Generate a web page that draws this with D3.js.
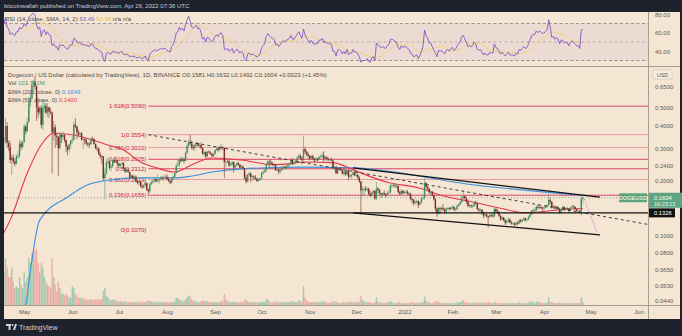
<!DOCTYPE html>
<html><head><meta charset="utf-8">
<script src="https://cdn.jsdelivr.net/npm/d3@7"></script>
<style>
html,body{margin:0;padding:0;background:#1e222d;}
svg{display:block;font-family:"Liberation Sans",Arial,sans-serif;}
</style></head><body>
<svg id="chart" width="682" height="336"></svg>
<script>
// ---- DOGE/USD daily bars, 2021-04-17 .. 2022-04-26 (open = previous close) ----
const firstDay = "2021-04-17";
const firstOpen = 0.367;
const closes = [
0.328,0.330,0.396,0.320,0.305,0.258,0.266,0.254,0.246,0.271,0.271,0.318,0.304,0.323,
0.394,0.371,0.418,0.534,0.562,0.663,0.691,0.652,0.502,0.470,0.499,0.402,0.500,0.512,0.469,0.503,0.476,0.470,0.365,0.390,0.351,0.345,0.300,0.356,0.345,0.355,0.332,0.306,0.294,0.314,0.329,
0.333,0.404,0.394,0.367,0.356,0.361,0.333,0.336,0.332,0.318,0.317,0.315,0.338,0.337,0.316,0.299,0.298,0.278,0.271,0.270,0.205,0.218,0.250,0.254,0.234,0.238,0.258,0.251,0.257,0.247,
0.240,0.245,0.248,0.232,0.224,0.228,0.222,0.206,0.212,0.205,0.209,0.198,0.194,0.197,0.186,0.183,0.187,0.193,0.178,0.174,0.191,0.195,0.199,0.203,0.197,0.199,0.203,0.206,0.205,0.208,0.209,
0.203,0.198,0.194,0.205,0.209,0.219,0.240,0.243,0.261,0.255,0.261,0.255,0.283,0.309,0.324,0.318,0.303,0.301,0.314,0.320,0.309,0.312,0.300,0.279,0.285,0.270,0.287,0.284,0.279,0.271,0.278,
0.293,0.299,0.293,0.302,0.304,0.300,0.252,0.253,0.255,0.241,0.245,0.251,0.235,0.241,0.248,0.244,0.234,0.238,0.232,0.206,0.197,0.214,0.218,0.208,0.210,0.208,0.204,0.198,0.200,0.205,
0.219,0.222,0.226,0.244,0.253,0.251,0.246,0.245,0.242,0.227,0.229,0.223,0.227,0.235,0.236,0.233,0.238,0.243,0.245,0.255,0.246,0.248,0.257,0.266,0.272,0.264,0.258,0.296,0.287,0.278,0.272,
0.263,0.271,0.263,0.257,0.262,0.259,0.268,0.270,0.274,0.262,0.268,0.262,0.260,0.261,0.256,0.236,0.236,0.218,0.230,0.232,0.227,0.218,0.223,0.215,0.227,0.209,0.213,0.214,0.221,0.213,
0.214,0.207,0.197,0.176,0.179,0.179,0.177,0.180,0.168,0.164,0.172,0.175,0.159,0.180,0.177,0.170,0.167,0.170,0.167,0.165,0.170,0.171,0.187,0.188,0.188,0.186,0.186,0.172,0.168,0.175,0.170,
0.173,0.173,0.169,0.168,0.158,0.157,0.150,0.152,0.154,0.147,0.151,0.159,0.160,0.194,0.184,0.180,0.172,0.173,0.166,0.157,0.140,0.132,0.141,0.139,0.141,0.138,0.135,0.140,0.141,0.139,0.142,
0.143,0.138,0.139,0.145,0.148,0.152,0.161,0.164,0.159,0.152,0.145,0.146,0.144,0.145,0.151,0.149,0.139,0.137,0.138,0.132,0.128,0.130,0.127,0.126,0.129,0.128,0.127,0.139,
0.135,0.134,0.128,0.122,0.125,0.121,0.117,0.119,0.122,0.117,0.116,0.116,0.114,0.117,0.116,0.121,0.119,0.121,0.124,0.121,0.122,0.126,0.130,0.136,0.137,0.137,0.143,0.141,0.143,0.142,0.140,
0.142,0.143,0.146,0.156,0.152,0.142,0.144,0.140,0.143,0.140,0.133,0.138,0.143,0.138,0.141,0.140,0.136,0.142,0.144,0.143,0.139,0.136,0.136,0.135,0.1581,0.1604
];
const highs = [
0.370,0.345,0.438,0.415,0.332,0.326,0.276,0.277,0.262,0.277,0.290,0.335,0.329,0.330,
0.410,0.400,0.440,0.570,0.598,0.700,0.708,0.738,0.660,0.560,0.510,0.515,0.552,0.540,0.528,0.530,0.505,0.497,0.475,0.423,0.404,0.365,0.350,0.369,0.358,0.370,0.357,0.334,0.312,0.318,0.333,
0.350,0.418,0.438,0.397,0.378,0.366,0.368,0.339,0.340,0.337,0.324,0.322,0.343,0.347,0.338,0.318,0.308,0.302,0.284,0.274,0.272,0.232,0.262,0.266,0.257,0.245,0.262,0.266,0.270,0.260,
0.250,0.248,0.253,0.252,0.236,0.232,0.233,0.224,0.216,0.215,0.212,0.213,0.201,0.200,0.199,0.192,0.190,0.200,0.194,0.180,0.194,0.199,0.201,0.208,0.205,0.215,0.205,0.211,0.210,0.212,0.215,
0.215,0.208,0.201,0.207,0.213,0.222,0.248,0.263,0.264,0.268,0.268,0.266,0.288,0.318,0.336,0.3554,0.330,0.313,0.318,0.325,0.323,0.319,0.322,0.302,0.289,0.288,0.290,0.292,0.289,0.283,0.283,
0.296,0.305,0.306,0.310,0.316,0.307,0.302,0.262,0.262,0.259,0.250,0.255,0.254,0.244,0.252,0.252,0.246,0.242,0.241,0.233,0.215,0.217,0.222,0.220,0.213,0.212,0.214,0.207,0.206,0.207,
0.222,0.226,0.230,0.250,0.260,0.258,0.260,0.252,0.249,0.245,0.234,0.232,0.230,0.238,0.244,0.240,0.242,0.248,0.250,0.262,0.265,0.256,0.262,0.272,0.280,0.277,0.270,0.350,0.305,0.292,0.285,
0.276,0.274,0.276,0.265,0.268,0.265,0.272,0.275,0.285,0.288,0.272,0.270,0.266,0.265,0.266,0.258,0.240,0.240,0.233,0.235,0.237,0.230,0.226,0.227,0.230,0.229,0.217,0.217,0.224,0.228,
0.222,0.216,0.210,0.198,0.185,0.183,0.186,0.183,0.182,0.176,0.173,0.177,0.176,0.196,0.184,0.180,0.171,0.172,0.176,0.170,0.174,0.177,0.190,0.193,0.191,0.192,0.190,0.190,0.176,0.179,0.177,
0.176,0.176,0.177,0.172,0.171,0.160,0.158,0.155,0.157,0.155,0.153,0.162,0.168,0.207,0.194,0.187,0.181,0.176,0.175,0.167,0.160,0.142,0.143,0.143,0.145,0.148,0.141,0.142,0.143,0.143,0.144,
0.146,0.145,0.141,0.147,0.150,0.155,0.165,0.176,0.166,0.162,0.157,0.149,0.147,0.147,0.153,0.155,0.150,0.141,0.140,0.139,0.135,0.133,0.132,0.128,0.132,0.131,0.132,0.141,
0.141,0.139,0.136,0.129,0.127,0.126,0.123,0.121,0.125,0.124,0.120,0.118,0.118,0.119,0.119,0.123,0.123,0.123,0.126,0.125,0.124,0.128,0.132,0.138,0.140,0.140,0.146,0.147,0.146,0.145,0.143,
0.144,0.146,0.148,0.177,0.160,0.154,0.146,0.146,0.145,0.144,0.141,0.140,0.145,0.144,0.142,0.142,0.141,0.143,0.147,0.146,0.144,0.140,0.138,0.137,0.166,0.1632
];
const lows = [
0.318,0.255,0.318,0.300,0.290,0.248,0.214,0.245,0.238,0.244,0.262,0.265,0.292,0.298,
0.322,0.355,0.366,0.409,0.505,0.555,0.628,0.625,0.422,0.440,0.455,0.385,0.378,0.470,0.460,0.445,0.440,0.460,0.218,0.330,0.300,0.312,0.212,0.295,0.320,0.335,0.323,0.285,0.273,0.285,0.300,
0.318,0.330,0.385,0.335,0.345,0.348,0.330,0.297,0.315,0.310,0.305,0.300,0.311,0.327,0.313,0.296,0.288,0.275,0.262,0.247,0.198,0.157,0.215,0.243,0.228,0.223,0.234,0.248,0.249,0.238,
0.232,0.232,0.240,0.230,0.219,0.220,0.220,0.200,0.203,0.202,0.202,0.195,0.190,0.188,0.183,0.180,0.180,0.186,0.175,0.165,0.170,0.188,0.190,0.196,0.194,0.196,0.191,0.199,0.201,0.197,0.205,
0.200,0.196,0.190,0.191,0.198,0.206,0.218,0.238,0.236,0.250,0.252,0.247,0.254,0.278,0.300,0.312,0.294,0.292,0.290,0.307,0.305,0.300,0.297,0.276,0.270,0.265,0.269,0.280,0.275,0.269,0.268,
0.276,0.290,0.285,0.290,0.296,0.292,0.205,0.236,0.248,0.237,0.238,0.240,0.220,0.232,0.238,0.240,0.232,0.232,0.229,0.202,0.192,0.195,0.210,0.195,0.203,0.199,0.202,0.196,0.196,0.199,
0.203,0.215,0.219,0.221,0.240,0.232,0.243,0.240,0.238,0.225,0.224,0.215,0.218,0.225,0.228,0.230,0.229,0.236,0.238,0.242,0.242,0.243,0.247,0.253,0.262,0.260,0.245,0.255,0.278,0.270,0.262,
0.258,0.260,0.259,0.250,0.253,0.253,0.258,0.263,0.266,0.250,0.258,0.255,0.254,0.255,0.254,0.232,0.226,0.216,0.216,0.226,0.225,0.215,0.212,0.212,0.213,0.200,0.207,0.202,0.212,0.210,
0.208,0.203,0.193,0.130,0.166,0.164,0.174,0.172,0.166,0.163,0.162,0.168,0.156,0.156,0.170,0.167,0.160,0.163,0.165,0.161,0.164,0.168,0.171,0.181,0.183,0.182,0.181,0.170,0.166,0.165,0.168,
0.168,0.170,0.166,0.165,0.155,0.149,0.145,0.147,0.149,0.141,0.145,0.150,0.157,0.157,0.178,0.176,0.168,0.166,0.163,0.155,0.135,0.126,0.130,0.131,0.135,0.136,0.131,0.133,0.138,0.137,0.137,
0.139,0.136,0.135,0.137,0.143,0.146,0.150,0.156,0.155,0.149,0.142,0.142,0.141,0.140,0.143,0.147,0.137,0.134,0.135,0.129,0.124,0.126,0.125,0.110,0.124,0.126,0.125,0.125,
0.133,0.131,0.126,0.120,0.121,0.119,0.114,0.115,0.118,0.116,0.114,0.114,0.112,0.113,0.114,0.115,0.117,0.118,0.120,0.119,0.119,0.121,0.125,0.129,0.134,0.134,0.136,0.139,0.139,0.139,0.136,
0.136,0.140,0.141,0.145,0.148,0.140,0.139,0.138,0.138,0.137,0.131,0.132,0.136,0.136,0.137,0.138,0.134,0.135,0.140,0.141,0.137,0.135,0.133,0.132,0.128,0.1492
];
// daily volume, hundreds of millions DOGE
const volumes = [
40,35,50,40,30,30,40,25,18,20,18,30,22,18,
35,25,30,50,45,55,55,58,60,45,35,45,40,30,25,22,20,18,50,30,22,15,25,18,12,12,10,12,10,8,8,
20,18,12,10,8,8,7,7,6,6,5,6,6,6,5,6,6,6,6,6,15,18,10,8,6,5,6,5,5,4,
4,4,3,4,4,3,3,4,3,3,3,3,3,3,4,3,3,3,4,5,4,4,3,3,3,4,3,3,3,3,3,
3,3,3,3,3,4,8,7,6,5,4,4,6,8,10,9,6,5,4,4,3,3,4,5,4,4,4,3,3,3,3,
3,3,3,3,4,4,12,6,4,4,3,3,4,3,3,3,3,3,3,5,6,4,3,3,3,3,3,3,3,3,
4,3,3,6,6,4,3,3,3,4,3,3,3,3,3,3,3,3,3,4,4,3,3,3,5,4,4,20,8,5,4,
3,3,3,3,3,3,3,3,4,4,3,3,2,2,3,4,3,4,3,2,2,3,3,3,2,4,3,3,3,3,
3,3,4,10,5,4,3,3,3,3,2,2,3,8,4,3,3,2,2,2,3,3,4,3,2,2,2,3,3,2,2,
2,2,2,2,3,3,3,2,2,3,2,3,3,9,5,3,3,2,2,3,4,4,3,3,2,2,2,2,2,2,2,
2,2,2,3,3,3,4,5,3,3,3,2,2,2,3,2,3,2,2,2,3,2,2,4,3,2,2,3,
3,2,2,2,2,2,2,2,2,2,2,2,2,2,2,3,2,2,2,2,2,3,3,4,3,2,4,3,3,3,2,
2,2,3,8,4,3,2,2,2,2,3,2,2,2,2,2,2,2,2,2,2,2,2,2,8,3
];
// RSI(14) per day
const rsiValues = [
70,70,76,66,64,58,60,58,57,61,61,66,64,66,
70,67,71,77,78,80,81,79,68,64,66,56,62,63,58,61,58,57,46,48,45,45,41,47,46,47,45,43,42,45,47,
47,54,53,50,49,50,47,47,47,46,46,45,48,48,45,43,43,41,40,39,31,29,38,39,37,37,40,39,40,38,
38,39,40,37,36,37,36,34,35,34,35,33,33,34,33,32,33,35,31,30,37,39,40,42,40,41,42,43,42,43,43,
41,40,39,45,47,52,60,61,66,63,65,62,69,74,78,72,66,65,67,68,64,65,60,53,55,50,55,54,52,50,52,
56,58,56,59,60,57,42,42,43,40,41,43,38,40,42,41,38,40,38,32,30,37,38,36,37,36,35,34,35,37,
44,46,48,56,59,57,55,54,53,47,48,45,47,50,51,50,52,53,54,57,53,53,56,59,61,57,54,64,58,54,52,
49,52,49,47,49,48,52,52,54,49,51,49,48,49,47,40,40,35,41,42,40,37,40,37,42,36,38,38,42,39,
39,37,34,28,30,30,30,32,29,28,33,34,30,49,47,45,44,45,44,43,46,47,53,53,52,50,50,44,42,46,44,
45,45,43,42,38,37,34,35,36,32,35,40,45,63,57,54,49,49,45,41,38,34,41,40,41,39,37,41,42,40,43,
44,41,42,46,48,50,56,57,53,49,45,46,45,46,50,48,42,41,42,39,36,38,36,36,39,38,38,48,
44,43,40,37,39,37,35,37,39,36,36,36,35,38,37,42,41,43,45,43,44,48,52,57,58,58,62,60,62,61,59,
60,61,63,74,66,55,56,53,55,53,48,52,52,49,50,49,46,50,51,50,48,46,46,43,63,63.49
];
// EMA lines, sampled [date, value]
const ema200Points = [
["2021-04-17",0.030],["2021-05-02",0.042],["2021-05-05",0.064],["2021-05-11",0.121],["2021-05-29",0.162],
["2021-06-11",0.189],["2021-06-24",0.200],["2021-07-15",0.206],["2021-08-06",0.206],["2021-08-17",0.211],
["2021-08-30",0.222],["2021-09-18",0.231],["2021-10-31",0.236],["2021-11-29",0.234],["2022-02-14",0.189],
["2022-04-26",0.1649]];
const ema50Points = [
["2021-04-17",0.100],["2021-04-22",0.121],["2021-05-03",0.219],["2021-05-11",0.303],["2021-05-20",0.362],
["2021-06-02",0.354],["2021-06-14",0.332],["2021-06-24",0.312],["2021-07-04",0.293],["2021-07-15",0.252],
["2021-07-26",0.233],["2021-08-06",0.222],["2021-08-17",0.243],["2021-08-30",0.265],["2021-09-18",0.258],
["2021-10-09",0.243],["2021-10-31",0.252],["2021-11-17",0.249],["2021-11-29",0.228],["2021-12-21",0.195],
["2022-01-11",0.181],["2022-01-24",0.166],["2022-02-14",0.152],["2022-03-08",0.138],["2022-03-18",0.133],
["2022-03-29",0.134],["2022-04-11",0.138],["2022-04-26",0.1400]];
// Fibonacci retracement levels
const fibRatios = ["1.618","1","0.786","0.618","0.5","0.382","0.236","0"];
const fibPrices = [0.5090,0.3554,0.3022,0.2605,0.2312,0.2019,0.1656,0.1070];
const fibStrong = [true,false,false,true,true,false,true,false];
const fibStart = "2021-07-20";
// drawn lines [date, price]
const dashedLine = [["2021-07-20",0.3554],["2022-06-07",0.1146]];
const upperTrend = [["2021-11-29",0.2335],["2022-05-07",0.1616]];
const lowerTrend = [["2021-11-29",0.1327],["2022-05-07",0.1004]];
const projection = [["2022-04-27",0.158],["2022-05-05",0.1035]];
const supportLevel = 0.1326;
const lastPrice = 0.1604;
const priceTicks = [0.0440,0.0530,0.0650,0.0800,0.1000,0.2000,0.2400,0.3000,0.4000,0.5000,0.6500];
const rsiTicks = [40,60,80];
const viewStart = "2021-04-18", viewEnd = "2022-06-07";

// ---- layout ----
const W = 682, H = 336;
const L = 4, R = 648, RSI_T = 12, RSI_B = 66, P_T = 67, P_B = 305, AX_B = 319;
const BG = "#f5e6d3", INK = "#4a4a4a";
const UP = "#3f8f5a", DOWN = "#7a2d25";

const parse = d3.utcParse("%Y-%m-%d");
const day0 = parse(firstDay);
const bars = closes.map((c, i) => ({
  date: d3.utcDay.offset(day0, i),
  open: i === 0 ? firstOpen : closes[i - 1],
  close: c, high: highs[i], low: lows[i], vol: volumes[i], rsi: rsiValues[i]
}));

const x = d3.scaleUtc().domain([parse(viewStart), parse(viewEnd)]).range([L, R]);
const y = d3.scaleLog().domain([0.0415, 0.834]).range([P_B, P_T]);
const yR = d3.scaleLinear().domain([30, 70]).range([60.5, 23.5]);
const yV = d3.scaleLinear().domain([0, 62]).range([P_B, P_B - 58]);

const svg = d3.select("#chart");
svg.append("rect").attr("width", W).attr("height", H).attr("fill", "#1e222d");
svg.append("rect").attr("x", L).attr("y", RSI_T).attr("width", 680 - L).attr("height", AX_B - RSI_T).attr("fill", BG);

const defs = svg.append("defs");
defs.append("clipPath").attr("id", "cp").append("rect").attr("x", L).attr("y", P_T).attr("width", R - L).attr("height", P_B - P_T);
defs.append("clipPath").attr("id", "cr").append("rect").attr("x", L).attr("y", RSI_T).attr("width", R - L).attr("height", RSI_B - RSI_T);

// ---- RSI pane ----
const rsiG = svg.append("g").attr("clip-path", "url(#cr)");
rsiG.append("rect").attr("x", L).attr("width", R - L).attr("y", yR(70)).attr("height", yR(30) - yR(70))
  .attr("fill", "#7e57c2").attr("opacity", 0.07);
[70, 50, 30].forEach(v => rsiG.append("line").attr("x1", L).attr("x2", R).attr("y1", yR(v)).attr("y2", yR(v))
  .attr("stroke", "#6a6470").attr("stroke-width", 0.8).attr("stroke-dasharray", "3,2.5").attr("opacity", v === 50 ? 0.45 : 0.8));
const sma = bars.map((b, i) => i < 13 ? null : d3.mean(bars.slice(i - 13, i + 1), d => d.rsi));
rsiG.append("path").datum(bars.map((b, i) => [b.date, sma[i]]).filter(d => d[1] != null))
  .attr("d", d3.line().x(d => x(d[0])).y(d => yR(d[1])))
  .attr("fill", "none").attr("stroke", "#f1d27a").attr("stroke-width", 1);
rsiG.append("path").datum(bars)
  .attr("d", d3.line().x(d => x(d.date)).y(d => yR(d.rsi)))
  .attr("fill", "none").attr("stroke", "#7e57c2").attr("stroke-width", 0.9);

const rsiAxis = svg.append("g").attr("transform", `translate(${R},0)`)
  .call(d3.axisRight(yR).tickValues(rsiTicks).tickFormat(d3.format(".2f")).tickSize(0).tickPadding(7));
rsiAxis.select(".domain").remove();
rsiAxis.selectAll("text").attr("font-size", 6).attr("fill", "#5a5a5a").attr("font-family", "Liberation Sans, Arial");

// ---- price pane ----
const pg = svg.append("g").attr("clip-path", "url(#cp)");

// volume
pg.selectAll("rect.vol").data(bars).join("rect").attr("class", "vol")
  .attr("x", d => x(d.date) - 0.7).attr("width", 1.4)
  .attr("y", d => yV(d.vol)).attr("height", d => P_B - yV(d.vol))
  .attr("fill", d => d.close >= d.open ? "#7cc3a4" : "#ee9a97").attr("opacity", 0.75);

// fib levels
const fx0 = x(parse(fibStart));
fibPrices.forEach((p, i) => {
  if (fibRatios[i] !== "0")
    pg.append("line").attr("x1", fx0).attr("x2", R).attr("y1", y(p)).attr("y2", y(p))
      .attr("stroke", "#d42c5a").attr("stroke-width", fibStrong[i] ? 1 : 0.9).attr("opacity", fibStrong[i] ? 0.85 : 0.45);
});
fibPrices.forEach((p, i) => {
  pg.append("text").attr("x", fx0 - 2).attr("y", y(p) + 2).attr("text-anchor", "end")
    .attr("font-size", 6).attr("fill", "#c2234f").text(`${fibRatios[i]}(${p.toFixed(4)})`);
});

// last price dotted line
pg.append("line").attr("x1", L).attr("x2", R).attr("y1", y(lastPrice)).attr("y2", y(lastPrice))
  .attr("stroke", "#6b9e86").attr("stroke-width", 0.8).attr("stroke-dasharray", "1,2");

// EMA lines
const emaLine = d3.line().curve(d3.curveMonotoneX).x(d => x(parse(d[0]))).y(d => y(d[1]));
pg.append("path").attr("d", emaLine(ema200Points)).attr("fill", "none").attr("stroke", "#3d8fe0").attr("stroke-width", 1.1);
pg.append("path").attr("d", emaLine(ema50Points)).attr("fill", "none").attr("stroke", "#e5364a").attr("stroke-width", 1.1);

// candles
const cg = pg.append("g");
cg.selectAll("line").data(bars).join("line")
  .attr("x1", d => x(d.date)).attr("x2", d => x(d.date))
  .attr("y1", d => y(Math.max(d.high, d.open, d.close))).attr("y2", d => y(Math.min(d.low, d.open, d.close)))
  .attr("stroke", d => d.close >= d.open ? "#7aa88a" : "#8a5a52").attr("stroke-width", 0.8);
cg.selectAll("rect").data(bars).join("rect")
  .attr("x", d => x(d.date) - 0.7).attr("width", 1.4)
  .attr("y", d => y(Math.max(d.open, d.close)))
  .attr("height", d => Math.max(0.8, Math.abs(y(d.open) - y(d.close))))
  .attr("fill", d => d.close >= d.open ? UP : DOWN);

// drawn lines
const seg = d3.line().x(d => x(parse(d[0]))).y(d => y(d[1]));
pg.append("path").attr("d", seg(dashedLine)).attr("stroke", "#2a2a2a").attr("stroke-width", 0.9).attr("stroke-dasharray", "3,3").attr("fill", "none");
pg.append("path").attr("d", seg(upperTrend)).attr("stroke", "#111").attr("stroke-width", 1.3).attr("fill", "none");
pg.append("path").attr("d", seg(lowerTrend)).attr("stroke", "#111").attr("stroke-width", 1.3).attr("fill", "none");
pg.append("line").attr("x1", L).attr("x2", R).attr("y1", y(supportLevel)).attr("y2", y(supportLevel)).attr("stroke", "#111").attr("stroke-width", 1.2);
pg.append("path").attr("d", seg(projection)).attr("stroke", "#b04cc8").attr("stroke-width", 0.9).attr("stroke-dasharray", "1,1.6").attr("fill", "none");

// ---- axes ----
const pAxis = svg.append("g").attr("transform", `translate(${R},0)`)
  .call(d3.axisRight(y).tickValues(priceTicks).tickFormat(d3.format(".4f")).tickSize(0).tickPadding(7));
pAxis.select(".domain").remove();
pAxis.selectAll("text").attr("font-size", 6).attr("fill", "#5a5a5a").attr("font-family", "Liberation Sans, Arial");

const months = d3.utcMonth.range(parse("2021-05-01"), parse("2022-06-02"));
const xAxis = svg.append("g").attr("transform", `translate(0,${P_B})`)
  .call(d3.axisBottom(x).tickValues(months).tickSize(0).tickPadding(5)
    .tickFormat(d => d.getUTCMonth() === 0 ? d3.utcFormat("%Y")(d) : d3.utcFormat("%b")(d)));
xAxis.select(".domain").remove();
xAxis.selectAll("text").attr("font-size", 6).attr("fill", "#5a5a5a").attr("font-family", "Liberation Sans, Arial");

// separators
svg.append("line").attr("x1", L).attr("x2", 680).attr("y1", 66.5).attr("y2", 66.5).attr("stroke", "#a89c8c").attr("stroke-width", 1);
svg.append("line").attr("x1", L).attr("x2", 680).attr("y1", P_B + 0.5).attr("y2", P_B + 0.5).attr("stroke", "#a89c8c").attr("stroke-width", 1);
svg.append("line").attr("x1", R + 0.5).attr("x2", R + 0.5).attr("y1", RSI_T).attr("y2", AX_B).attr("stroke", "#a89c8c").attr("stroke-width", 1);

// axis badges
svg.append("rect").attr("x", 653).attr("y", 70).attr("width", 19).attr("height", 9).attr("rx", 1.5).attr("fill", "#f8efe4").attr("stroke", "#c8bcae").attr("stroke-width", 0.6);
svg.append("text").attr("x", 662.5).attr("y", 76.7).attr("text-anchor", "middle").attr("font-size", 5.5).attr("fill", "#555").text("USD");

const yl = y(lastPrice);
svg.append("rect").attr("x", 619).attr("y", yl - 4.5).attr("width", 28).attr("height", 9).attr("rx", 1).attr("fill", "#5ea57f");
svg.append("text").attr("x", 633).attr("y", yl + 2).attr("text-anchor", "middle").attr("font-size", 5.5).attr("fill", "#fff").text("DOGEUSD");
svg.append("rect").attr("x", R + 1).attr("y", yl - 5).attr("width", 33).attr("height", 15).attr("fill", "#5ea57f");
svg.append("text").attr("x", 654).attr("y", yl + 1.8).attr("font-size", 5.8).attr("fill", "#fff").text(lastPrice.toFixed(4));
svg.append("text").attr("x", 654).attr("y", yl + 8.3).attr("font-size", 5.5).attr("fill", "#e8f5ee").text("16:23:13");
const ys = y(supportLevel);
svg.append("rect").attr("x", R + 1).attr("y", ys - 4.5).attr("width", 26).attr("height", 9).attr("fill", "#111");
svg.append("text").attr("x", 654).attr("y", ys + 2).attr("font-size", 5.8).attr("fill", "#fff").text(supportLevel.toFixed(4));

// ---- legends ----
svg.append("text").attr("x", 4).attr("y", 7.5).attr("font-size", 6).attr("fill", "#c9cdd6")
  .text("bitcoinwallah published on TradingView.com, Apr 26, 2022 07:36 UTC");

const rl = svg.append("text").attr("x", 5).attr("y", 21).attr("font-size", 6).attr("fill", INK);
rl.append("tspan").text("RSI (14, close, SMA, 14, 2) ");
rl.append("tspan").attr("fill", "#7e57c2").text("63.49 ");
rl.append("tspan").attr("fill", "#e6c35c").text("50.46 ");
rl.append("tspan").text("n/a  n/a");

const hl = svg.append("text").attr("x", 8).attr("y", 77).attr("font-size", 6).attr("fill", INK);
hl.append("tspan").text("Dogecoin / US Dollar (calculated by TradingView), 1D, BINANCE  ");
hl.append("tspan").text("O0.1581  H0.1632  L0.1492  C0.1604  +0.0023 (+1.45%)");
const vl = svg.append("text").attr("x", 8).attr("y", 85).attr("font-size", 6).attr("fill", INK);
vl.append("tspan").text("Vol  ");
vl.append("tspan").attr("fill", "#3f9a6e").text("103.762M");
const e2 = svg.append("text").attr("x", 8).attr("y", 93.5).attr("font-size", 6).attr("fill", INK);
e2.append("tspan").text("EMA (200, close, 0)  ");
e2.append("tspan").attr("fill", "#3d8fe0").text("0.1649");
const e5 = svg.append("text").attr("x", 8).attr("y", 102).attr("font-size", 6).attr("fill", INK);
e5.append("tspan").text("EMA (50, close, 0)  ");
e5.append("tspan").attr("fill", "#e5364a").text("0.1400");

// ---- footer ----
const lg = svg.append("g").attr("fill", "#d1d4dc");
lg.append("rect").attr("x", 6).attr("y", 324).attr("width", 5).attr("height", 2);
lg.append("rect").attr("x", 8.5).attr("y", 324).attr("width", 2).attr("height", 6);
lg.append("circle").attr("cx", 12.5).attr("cy", 325).attr("r", 1);
lg.append("path").attr("d", "M13 330 L15 324 L17 324 L15 330 Z");
svg.append("text").attr("x", 19).attr("y", 329.5).attr("font-size", 7).attr("fill", "#d1d4dc").text("TradingView");
</script>
</body></html>
